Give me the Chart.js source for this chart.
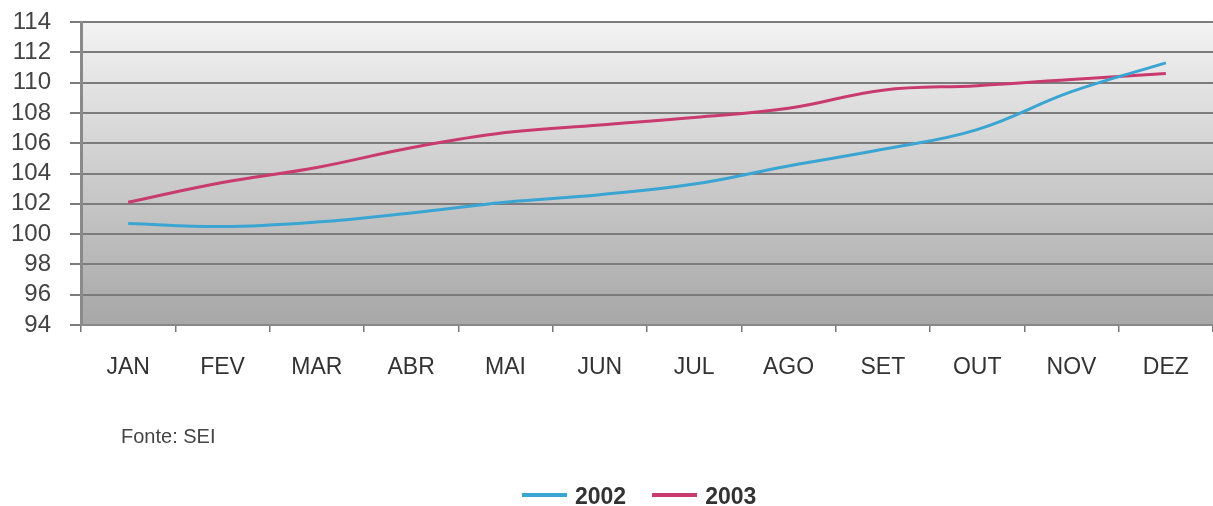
<!DOCTYPE html>
<html>
<head>
<meta charset="utf-8">
<script src="https://cdn.jsdelivr.net/npm/chart.js@4"></script>
<style>
  html, body { margin: 0; padding: 0; background: #fff; }
  #wrap { position: relative; width: 1213px; height: 506px; font-family: "Liberation Sans", Arial, sans-serif; }
  #fonte { position: absolute; left: 121px; top: 425px; font-size: 20px; color: #444; }
  #legend { position: absolute; left: 522px; top: 483px; font-size: 23px; font-weight: bold; color: #333; white-space: nowrap; }
  #legend span.item { display: inline-block; margin-right: 26px; }
  #legend span.sw { display: inline-block; width: 45px; height: 4px; vertical-align: middle; margin-right: 8px; position: relative; top: -3px; }
</style>
</head>
<body>
<div id="wrap">
  <canvas id="chart" width="1213" height="506"></canvas>
  <div id="fonte">Fonte: SEI</div>
  <div id="legend"></div>
</div>
<script>
'use strict';

// months on the x axis
const months = ['JAN', 'FEV', 'MAR', 'ABR', 'MAI', 'JUN', 'JUL', 'AGO', 'SET', 'OUT', 'NOV', 'DEZ'];
const seriesNames = ['2002', '2003'];
const values2002 = [100.7, 100.5, 100.8, 101.4, 102.1, 102.6, 103.3, 104.5, 105.6, 106.9, 109.4, 111.3];
const values2003 = [102.1, 103.4, 104.4, 105.7, 106.7, 107.2, 107.7, 108.3, 109.5, 109.8, 110.2, 110.6];
const seriesColors = ['#3aa5d2', '#c93a6e'];

// gradient behind the plot area
const plotBackground = {
    id: 'plotBackground',
    beforeDraw(chart) {
        const { ctx, chartArea } = chart;
        const g = ctx.createLinearGradient(0, chartArea.top, 0, chartArea.bottom);
        g.addColorStop(0, '#f3f3f3');
        g.addColorStop(1, '#a7a7a7');
        ctx.save();
        ctx.fillStyle = g;
        ctx.fillRect(chartArea.left, chartArea.top, chartArea.right - chartArea.left, chartArea.bottom - chartArea.top);
        ctx.restore();
    }
};

function renderChart() {
    const data = {
        labels: months,
        datasets: [
            { label: seriesNames[0], data: values2002, borderColor: seriesColors[0] },
            { label: seriesNames[1], data: values2003, borderColor: seriesColors[1] }
        ].map(d => Object.assign(d, {
            backgroundColor: d.borderColor,
            borderWidth: 3,
            tension: 0.4,
            pointRadius: 0,
            fill: false
        }))
    };

    const config = {
        type: 'line',
        data: data,
        plugins: [plotBackground],
        options: {
            responsive: false,
            animation: false,
            layout: { padding: { top: 22, right: 0, left: 0, bottom: 0 } },
            plugins: {
                legend: { display: false },
                tooltip: { enabled: false }
            },
            scales: {
                x: {
                    offset: true,
                    grid: { offset: true, drawOnChartArea: false, drawTicks: true, tickLength: 7, color: '#777', lineWidth: 1.5 },
                    border: { color: '#888', width: 2 },
                    ticks: { color: '#333', padding: 22, autoSkip: false, maxRotation: 0, font: { family: 'Liberation Sans', size: 23 } },
                    afterFit(scale) { scale.height = 181; scale.paddingLeft = 0; scale.paddingRight = 0; }
                },
                y: {
                    min: 94,
                    max: 114,
                    ticks: { stepSize: 2, autoSkip: false, color: '#444', padding: 19, font: { family: 'Liberation Sans', size: 24 } },
                    grid: { color: '#7c7c7c', lineWidth: 2, tickLength: 11 },
                    border: { color: '#8a8a8a', width: 3 },
                    afterFit(scale) { scale.width = 81; scale.paddingTop = 0; scale.paddingBottom = 0; }
                }
            }
        }
    };

    new Chart(document.getElementById('chart'), config);

    const legend = document.getElementById('legend');
    seriesNames.forEach((name, i) => {
        const item = document.createElement('span');
        item.className = 'item';
        const sw = document.createElement('span');
        sw.className = 'sw';
        sw.style.background = seriesColors[i];
        item.appendChild(sw);
        item.appendChild(document.createTextNode(name));
        legend.appendChild(item);
    });
}

document.addEventListener('DOMContentLoaded', renderChart);
</script>
</body>
</html>
